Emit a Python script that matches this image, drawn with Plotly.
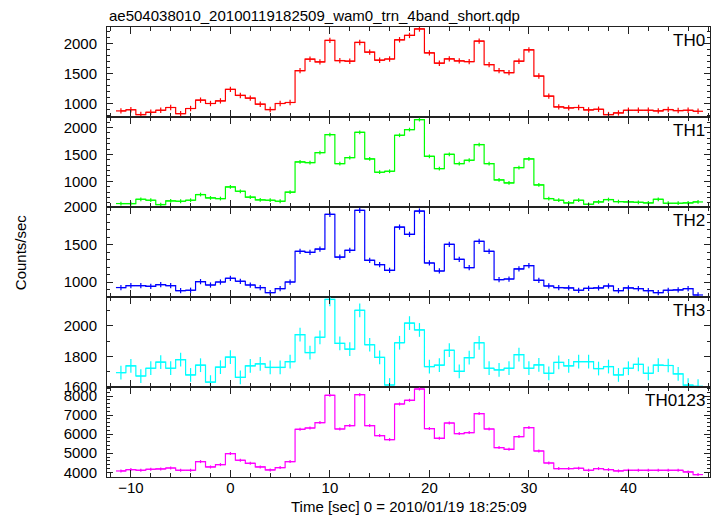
import plotly.graph_objects as go
from plotly.subplots import make_subplots

time_sec = list(range(-11, 48))

th0 = [876, 895, 815, 853, 887, 933, 831, 916, 1056, 1000, 1044, 1236, 1135, 1090, 988, 899,
       1000, 1017, 1550, 1742, 1697, 2056, 1719, 1708, 2022, 1860, 1725, 1745, 2067, 2140,
       2248, 1848, 1675, 1747, 1713, 1702, 2045, 1651, 1550, 1516, 1708, 1899, 1460, 1123,
       943, 926, 933, 892, 904, 815, 842, 887, 887, 887, 876, 899, 882, 887, 870]
th1 = [586, 586, 666, 648, 568, 635, 629, 648, 754, 691, 679, 895, 815, 704, 654, 648,
       629, 797, 1360, 1349, 1535, 1870, 1330, 1442, 1912, 1416, 1169, 1187, 1857, 1963,
       2149, 1466, 1237, 1503, 1330, 1392, 1684, 1330, 1025, 970, 1256, 1416, 932, 679,
       648, 598, 648, 573, 616, 661, 623, 616, 610, 598, 666, 592, 592, 598, 616]
th2 = [926, 952, 952, 943, 965, 952, 885, 890, 1005, 960, 1000, 1050, 1010, 960, 926, 859,
       912, 1000, 1410, 1396, 1440, 1903, 1333, 1423, 1956, 1290, 1232, 1156, 1733, 1636,
       1947, 1254, 1147, 1503, 1303, 1192, 1543, 1410, 1032, 1040, 1174, 1219, 1023, 947,
       926, 921, 890, 916, 921, 947, 885, 921, 912, 885, 859, 890, 894, 912, 827]
th3 = [1693, 1738, 1671, 1722, 1762, 1722, 1778, 1678, 1742, 1631, 1729, 1795, 1662, 1738,
       1751, 1727, 1727, 1765, 1942, 1825, 1925, 2173, 1885, 1847, 2102, 1876, 1793, 1612,
       1889, 2018, 1973, 1733, 1742, 1840, 1702, 1791, 1889, 1722, 1711, 1722, 1811, 1722,
       1744, 1689, 1760, 1738, 1765, 1765, 1720, 1733, 1678, 1722, 1747, 1689, 1742, 1740,
       1685, 1611, 1604]
th0123 = [4070, 4143, 4107, 4159, 4176, 4227, 4107, 4107, 4563, 4280, 4405, 4982, 4631, 4473,
          4280, 4124, 4248, 4563, 6255, 6323, 6606, 8037, 6271, 6449, 8073, 6449, 5925, 5715,
          7581, 7775, 8367, 6292, 5784, 6585, 6030, 6082, 7078, 6271, 5296, 5207, 5873, 6344,
          5118, 4489, 4196, 4196, 4213, 4107, 4196, 4143, 4073, 4107, 4107, 4107, 4107, 4107,
          4107, 4018, 3881]

panel_names = ["TH0", "TH1", "TH2", "TH3", "TH0123"]
panel_colors = ["#ff0000", "#00ff00", "#0000ff", "#00ffff", "#ff00ff"]
typical_errors = [45, 35, 35, 45, 80]
y_ranges = [[774, 2281], [522, 2197], [800, 2001], [1599, 2189], [3754, 8472]]
y_major = [500, 500, 500, 200, 1000]
y_minor = [100, 100, 100, 100, 200]

series = [th0, th1, th2, th3, th0123]

FONT = "Liberation Sans, Arial, Helvetica, sans-serif"
AX = "#222"

fig = make_subplots(rows=5, cols=1, shared_xaxes=False, vertical_spacing=0)

for i, (vals, name, col, err) in enumerate(zip(series, panel_names, panel_colors, typical_errors)):
    fig.add_trace(go.Scatter(
        x=time_sec, y=vals, mode="lines", line_shape="hvh",
        line=dict(color=col, width=1.2),
        error_x=dict(type="constant", value=0.5, color=col, thickness=1.2, width=0),
        error_y=dict(type="constant", value=err, color=col, thickness=1.2, width=0),
        showlegend=False, name=name,
    ), row=i + 1, col=1)
    fig.update_yaxes(
        range=y_ranges[i], tick0=0, dtick=y_major[i], ticks="inside", ticklen=6,
        tickwidth=1.2, tickcolor=AX, showline=True, linecolor=AX, linewidth=1,
        mirror="ticks", showgrid=False, zeroline=False, automargin=False,
        minor=dict(dtick=y_minor[i], tick0=0, ticks="inside", ticklen=3, tickcolor=AX, tickwidth=1),
        tickfont=dict(family=FONT, size=15, color="black"), ticklabelstandoff=6,
        row=i + 1, col=1)
    fig.update_xaxes(
        range=[-12.4, 48.2], tick0=0, dtick=10, ticks="inside", ticklen=7,
        tickwidth=1.2, tickcolor=AX, showline=True, linecolor=AX, linewidth=1,
        mirror="ticks", showgrid=False, zeroline=False, showticklabels=(i == 4),
        automargin=False,
        minor=dict(dtick=2, tick0=0, ticks="inside", ticklen=4, tickcolor=AX, tickwidth=1),
        tickfont=dict(family=FONT, size=15, color="black"), ticklabelstandoff=-3,
        row=i + 1, col=1)
    fig.add_annotation(
        text=name, xref=f"x{'' if i == 0 else i + 1} domain", yref=f"y{'' if i == 0 else i + 1} domain",
        x=1, y=1, xanchor="right", yanchor="top", xshift=-3, yshift=-2, showarrow=False,
        font=dict(family=FONT, size=17, color="black"))

fig.add_annotation(text="Time [sec] 0 = 2010/01/19 18:25:09", xref="paper", yref="paper",
                   x=0.5, y=0, xanchor="center", yanchor="middle", yshift=-29,
                   showarrow=False, font=dict(family=FONT, size=15, color="black"))
fig.add_annotation(text="Counts/sec", xref="paper", yref="paper", x=-0.144, y=0.5,
                   textangle=-90, showarrow=False, xanchor="center", yanchor="middle",
                   font=dict(family=FONT, size=15, color="black"))
fig.add_annotation(text="ae504038010_20100119182509_wam0_trn_4band_short.qdp", xref="paper",
                   yref="paper", x=0, y=1, xanchor="left", yanchor="bottom", yshift=1,
                   showarrow=False, font=dict(family=FONT, size=15, color="black"))

fig.update_layout(width=717, height=516, margin=dict(l=107, r=7, t=27, b=39),
                  plot_bgcolor="white", paper_bgcolor="white")

fig.write_html("out.html", config={"displayModeBar": False},
               post_script="document.body.style.margin='0';")
